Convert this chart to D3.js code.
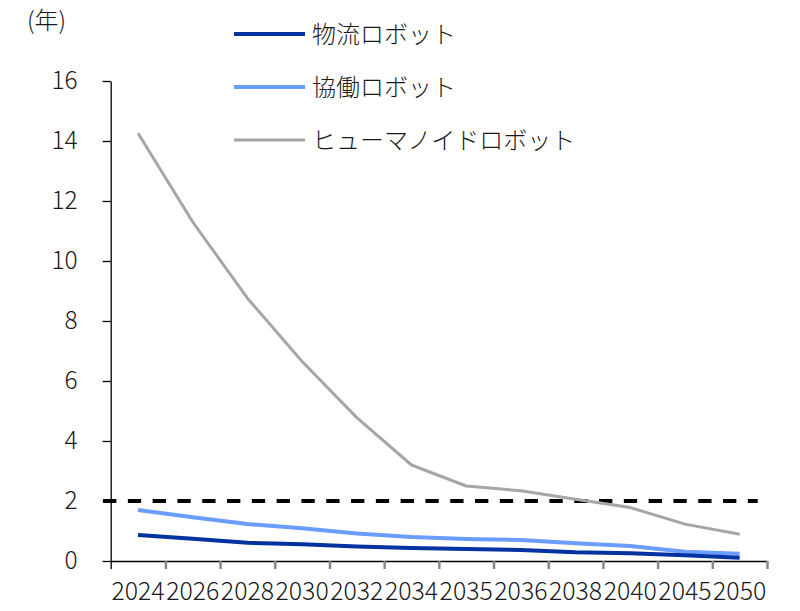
<!DOCTYPE html>
<html>
<head>
<meta charset="utf-8">
<script src="https://cdn.jsdelivr.net/npm/d3@7"></script>
<style>
  body { margin: 0; background: #fff; }
  svg text { font-family: "Noto Sans CJK JP", "Noto Sans", sans-serif; font-weight: 300; fill: #1a1a1a; }
</style>
</head>
<body>
<div id="chart"></div>
<script>
// data
var years = ["2024", "2026", "2028", "2030", "2032", "2034", "2035", "2036", "2038", "2040", "2045", "2050"];
var logistics = [0.87, 0.74, 0.61, 0.56, 0.48, 0.43, 0.40, 0.37, 0.29, 0.26, 0.19, 0.11];
var collaborative = [1.70, 1.46, 1.23, 1.09, 0.92, 0.80, 0.73, 0.70, 0.59, 0.50, 0.31, 0.24];
var humanoid = [14.26, 11.30, 8.76, 6.65, 4.78, 3.20, 2.50, 2.34, 2.06, 1.78, 1.23, 0.89];
var seriesNames = ["物流ロボット", "協働ロボット", "ヒューマノイドロボット"];
var yTicks = [0, 2, 4, 6, 8, 10, 12, 14, 16];
var threshold = 2;
var unitLabel = "(年)";

var width = 800, height = 611;
var margin = {top: 81, right: 33, bottom: 50, left: 110.7};

var svg = d3.select("#chart")
    .append("svg")
    .attr("width", width)
    .attr("height", height);

var plotW = width - margin.left - margin.right;
var plotH = height - margin.top - margin.bottom;

var g = svg.append("g")
    .attr("transform", "translate(" + margin.left + "," + margin.top + ")");

var x = d3.scaleBand().domain(years).range([0, plotW]);
var xEdge = d3.scaleLinear().domain([0, years.length]).range([0, plotW]);
var y = d3.scaleLinear().domain([0, 16]).range([plotH, 0]);
var bw = x.bandwidth();

// y axis
var yAxis = g.append("g")
    .call(d3.axisLeft(y).tickValues(yTicks).tickSize(8).tickPadding(25).tickSizeOuter(0));
yAxis.select(".domain").attr("stroke", "#000").attr("stroke-width", 1.3);
yAxis.selectAll(".tick line").attr("stroke", "#000").attr("stroke-width", 1.3);
yAxis.selectAll("text").attr("font-size", 24.5).attr("fill", "#1a1a1a");

// x axis: ticks between categories, labels at centres
var xTickAxis = g.append("g")
    .attr("transform", "translate(0," + plotH + ")")
    .call(d3.axisBottom(xEdge).ticks(years.length).tickSize(8).tickSizeOuter(0).tickFormat(""));
xTickAxis.select(".domain").attr("stroke", "#000").attr("stroke-width", 1.3);
xTickAxis.selectAll(".tick line").attr("stroke", "#888").attr("stroke-width", 2.5);
xTickAxis.selectAll(".tick line").filter(function(d) { return d === 0; }).attr("stroke", "#000").attr("stroke-width", 1.3);

var xLabelAxis = g.append("g")
    .attr("transform", "translate(0," + plotH + ")")
    .call(d3.axisBottom(x).tickSize(0).tickPadding(21));
xLabelAxis.select(".domain").remove();
xLabelAxis.selectAll("text")
    .attr("font-size", 25)
    .attr("fill", "#1a1a1a")
    .attr("textLength", bw - 1.5)
    .attr("lengthAdjust", "spacingAndGlyphs");

// dashed threshold line
g.append("line")
    .attr("x1", -bw * 0.14)
    .attr("x2", plotW - bw * 0.17)
    .attr("y1", y(threshold))
    .attr("y2", y(threshold))
    .attr("stroke", "#000")
    .attr("stroke-width", 4)
    .attr("stroke-dasharray", "13.3,11.5");

// series lines
var series = [
    {name: seriesNames[0], values: logistics, color: "#0033a0", width: 4},
    {name: seriesNames[1], values: collaborative, color: "#6b9cff", width: 4},
    {name: seriesNames[2], values: humanoid, color: "#a6a6a6", width: 3}
];

var line = d3.line()
    .x(function(d, i) { return x(years[i]) + bw / 2; })
    .y(function(d) { return y(d); });

// draw gray first, then light blue, then dark blue on top
series.slice().reverse().forEach(function(s) {
    g.append("path")
        .datum(s.values)
        .attr("fill", "none")
        .attr("stroke", s.color)
        .attr("stroke-width", s.width)
        .attr("stroke-linejoin", "round")
        .attr("d", line);
});

// legend
var legend = svg.append("g").attr("transform", "translate(234,34)");
series.forEach(function(s, i) {
    var row = legend.append("g").attr("transform", "translate(0," + (i * 53) + ")");
    row.append("line")
        .attr("x1", 0).attr("x2", 71)
        .attr("y1", 0).attr("y2", 0)
        .attr("stroke", s.color)
        .attr("stroke-width", s.width);
    row.append("text")
        .attr("x", 78)
        .attr("y", 8.5)
        .attr("font-size", 24)
        .text(s.name);
});

// unit label
svg.append("text")
    .attr("x", 27)
    .attr("y", 29)
    .attr("font-size", 24)
    .text(unitLabel);
</script>
</body>
</html>
